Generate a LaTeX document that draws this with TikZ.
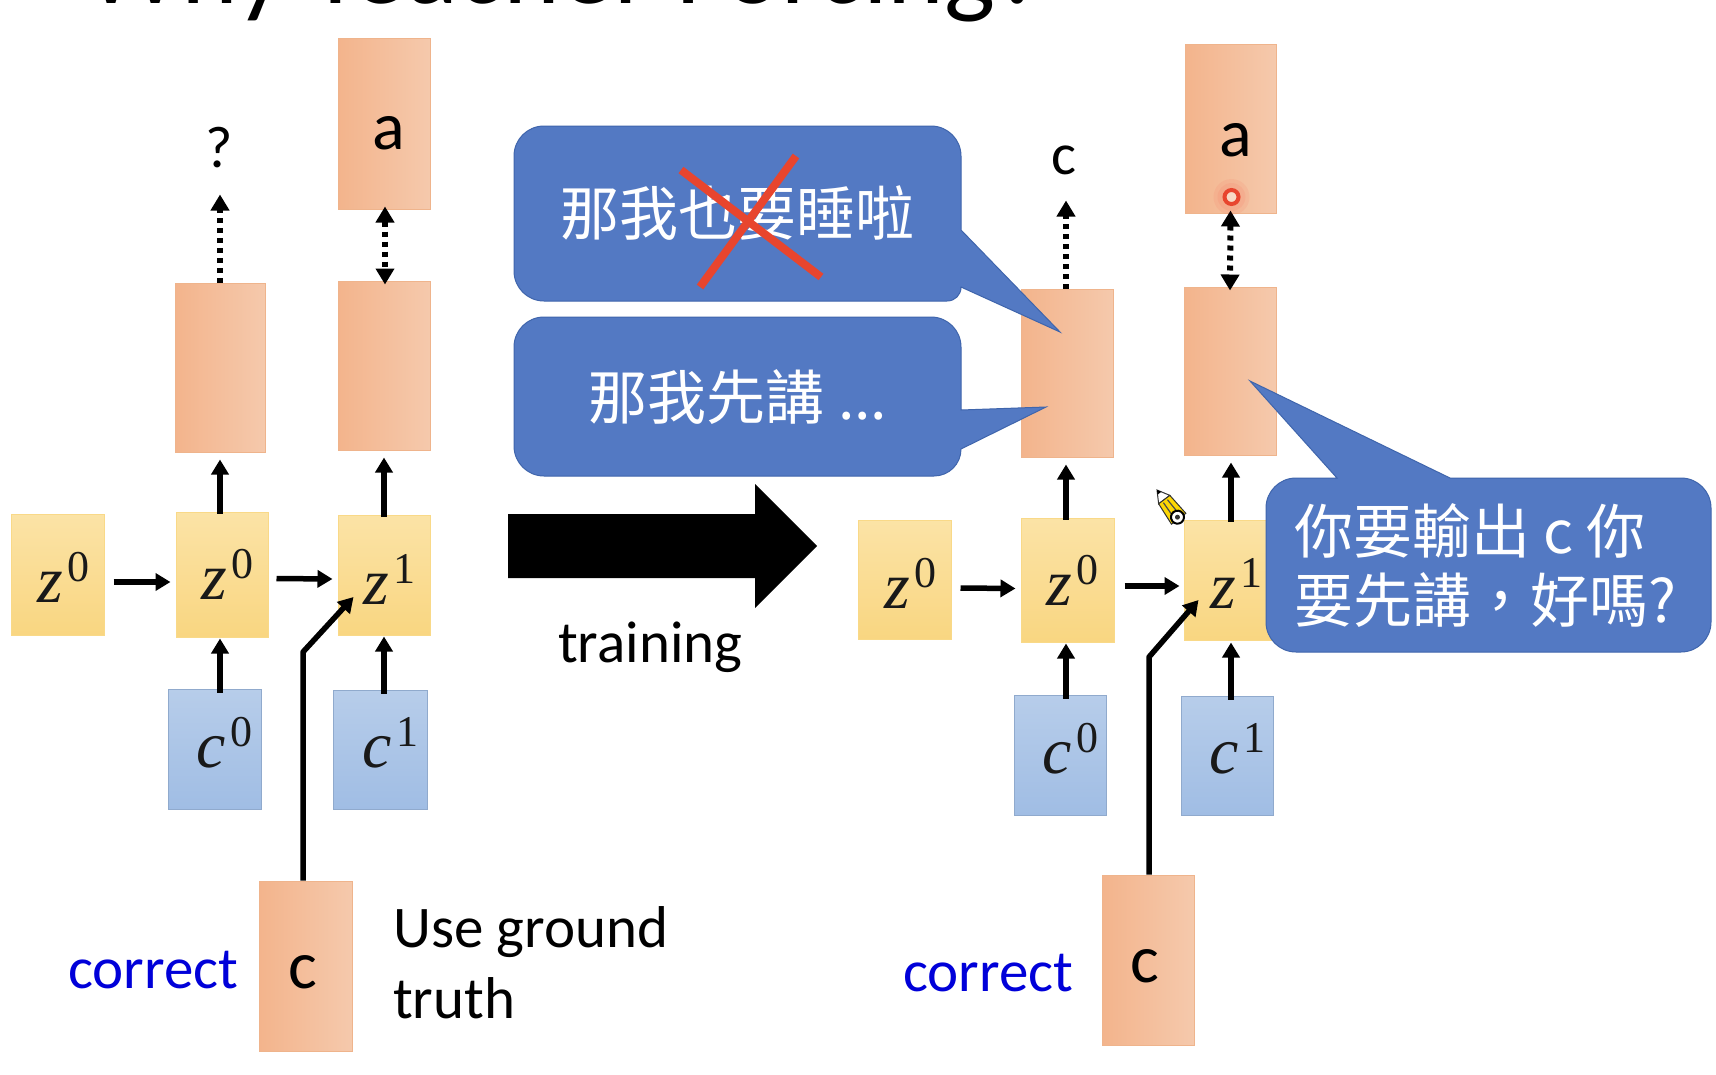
\documentclass[tikz,border=0pt]{standalone}
\usepackage{fontspec}
\setmainfont{Carlito}
\newfontfamily\cjk{Noto Sans CJK TC}
\newfontfamily\mfont{Liberation Serif}
\usetikzlibrary{arrows.meta}
\definecolor{orL}{HTML}{F3B48C}
\definecolor{orR}{HTML}{F5C9AC}
\definecolor{orB}{HTML}{EFB48C}
\definecolor{yeT}{HTML}{FBE3A6}
\definecolor{yeB}{HTML}{F9D681}
\definecolor{blT}{HTML}{B7CDEA}
\definecolor{blB}{HTML}{A0BDE4}
\definecolor{bub}{HTML}{5379C3}
\definecolor{bubE}{HTML}{3F65AC}
\definecolor{crossc}{HTML}{E8452E}
\newcommand{\fs}[1]{\fontsize{#1}{#1}\selectfont}
\newcommand{\vv}[2]{{\mfont\fs{66}\itshape #1\upshape\kern5pt\raisebox{21pt}{\fs{44}#2}}}
\tikzset{
  obox/.style={rectangle,inner sep=0pt,left color=orL,right color=orR,draw=orB,line width=1pt},
  ybox/.style={rectangle,inner sep=0pt,top color=yeT,bottom color=yeB,draw=yeB!80!yeT,line width=1pt},
  bbox/.style={rectangle,inner sep=0pt,top color=blT,bottom color=blB,draw=blB!90!black,line width=1pt},
  vlab/.style={inner sep=0pt,anchor=base west,text=black!90},
  txt/.style={inner sep=0pt,font=\fs{59},text=black},
  blu/.style={txt,text=blue!85!black,anchor=base west},
  arr/.style={draw=black,line width=5.5pt,-{Triangle[length=15pt,width=17pt]}},
  dotarr/.style={draw=black,line width=6pt,dash pattern=on 5pt off 5pt,-{Triangle[length=16pt,width=18pt]}},
  dotarrb/.style={draw=black,line width=6pt,dash pattern=on 5pt off 5pt,{Triangle[length=16pt,width=18pt]}-{Triangle[length=16pt,width=18pt]}},
  bubble/.style={fill=bub,draw=bubE,line width=1pt},
  bubtxt/.style={inner sep=0pt,text=white,font=\cjk\fs{59}},
  cross/.style={draw=crossc,line width=8pt}
}
\begin{document}
\begin{tikzpicture}[x=1pt,y=-1pt]
\useasboundingbox (0,0) rectangle (1716,1074);
\clip (0,0) rectangle (1716,1074);
\fill[white] (0,0) rectangle (1716,1074);
% title (cut by the top edge)
\node[inner sep=0pt,anchor=base west,font=\fs{108},text=black] (title) at (85,3) {Why Teacher Forcing?};
% ---- left group
\node[obox,minimum width=90pt,minimum height=169pt] (Lout) at (220,367.5) {};
\node[obox,minimum width=92pt,minimum height=169pt] (Lmid) at (384,365.5) {};
\node[obox,minimum width=92pt,minimum height=171pt] (Ltop) at (384,123.5) {};
\node[obox,minimum width=93pt,minimum height=170pt] (Lc) at (305.5,966) {};
\node[ybox,minimum width=93pt,minimum height=121pt] (Lza) at (57.5,574.5) {};
\node[ybox,minimum width=92pt,minimum height=125pt] (Lzb) at (222,574.5) {};
\node[ybox,minimum width=92pt,minimum height=120pt] (Lzc) at (384,575) {};
\node[bbox,minimum width=93pt,minimum height=120pt] (Lca) at (214.5,749) {};
\node[bbox,minimum width=94pt,minimum height=119pt] (Lcb) at (380,749.5) {};
\node[vlab] (Lzat) at (37,602) {\vv{z}{0}};
\node[vlab] (Lzbt) at (201,599) {\vv{z}{0}};
\node[vlab] (Lzct) at (363,604) {\vv{z}{1}};
\node[vlab] (Lcat) at (196,767) {\vv{c}{0}};
\node[vlab] (Lcbt) at (362,767) {\vv{c}{1}};
\node[txt] (Lq) at (219,148) {?};
\node[txt,font=\fs{68}] (Lat) at (389,133) {a};
\node[txt,font=\fs{68}] (Lct) at (303,972) {c};
\node[blu] (Lcor) at (68,988) {correct};
\node[txt,anchor=base west] (use1) at (393,947) {Use ground};
\node[txt,anchor=base west] (use2) at (393,1018) {truth};
\coordinate (Lb) at (303,652);
\draw[arr] ([xshift=9pt,yshift=-7.5pt]Lza.east) -- ([yshift=-7.5pt,xshift=-5pt]Lzb.west);
\draw[arr] ([xshift=8pt,yshift=-4pt]Lzb.east) -- ([xshift=-5pt,yshift=-4pt]Lzc.west);
\draw[arr] ([xshift=5.5pt,yshift=-4pt]Lca.north) -- ([xshift=-2pt,yshift=-1pt]Lzb.south);
\draw[arr] ([xshift=4pt,yshift=-4pt]Lcb.north) -- ([yshift=-1pt]Lzc.south);
\draw[arr,shorten >=7pt] ([xshift=-2pt,yshift=-2pt]Lzb.north) -- (Lout.south);
\draw[arr,shorten >=7pt] ([yshift=-2pt]Lzc.north) -- (Lmid.south);
\draw[dotarr] (Lout.north) -- ([yshift=88pt]Lout.north);
\draw[dotarrb] ([xshift=1pt,yshift=3pt]Ltop.south) -- ([xshift=1pt,yshift=-4pt]Lmid.north);
\draw[line width=5.5pt,line join=round,-{Triangle[length=15pt,width=17pt]}] ([xshift=-2.5pt]Lc.north) -- (Lb) -- ([xshift=16pt,yshift=-22pt]Lzc.west);
% ---- big arrow and label
\path[fill=black] (508,514) -- (755,514) -- (755,484) -- (817,546) -- (755,608) -- (755,578) -- (508,578) -- cycle;
\node[txt,anchor=base west] (train) at (558,662) {training};
% ---- right group
\node[obox,minimum width=92pt,minimum height=168pt] (Rout) at (1067,373) {};
\node[obox,minimum width=92pt,minimum height=168pt] (Rmid) at (1230,371) {};
\node[obox,minimum width=91pt,minimum height=169pt] (Rtop) at (1230.5,128.5) {};
\node[obox,minimum width=92pt,minimum height=170pt] (Rc) at (1148,960) {};
\node[ybox,minimum width=93pt,minimum height=119pt] (Rza) at (904.5,579.5) {};
\node[ybox,minimum width=93pt,minimum height=124pt] (Rzb) at (1067.5,580) {};
\node[ybox,minimum width=92pt,minimum height=120pt] (Rzc) at (1230,580) {};
\node[bbox,minimum width=92pt,minimum height=120pt] (Rca) at (1060,755) {};
\node[bbox,minimum width=92pt,minimum height=119pt] (Rcb) at (1227,755.5) {};
\node[vlab] (Rzat) at (884,608) {\vv{z}{0}};
\node[vlab] (Rzbt) at (1046,605) {\vv{z}{0}};
\node[vlab] (Rzct) at (1210,608) {\vv{z}{1}};
\node[vlab] (Rcat) at (1042,773) {\vv{c}{0}};
\node[vlab] (Rcbt) at (1209,773) {\vv{c}{1}};
\node[txt] (Rq) at (1064,160) {c};
\node[txt,font=\fs{68}] (Rat) at (1236,140) {a};
\node[txt,font=\fs{68}] (Rct) at (1145,966) {c};
\node[blu] (Rcor) at (903,991) {correct};
\coordinate (Rb) at (1149,657);
\draw[arr] ([xshift=9pt,yshift=-8.5pt]Rza.east) -- ([xshift=-5pt,yshift=-8.5pt]Rzb.west);
\draw[arr] ([xshift=10pt,yshift=-6pt]Rzb.east) -- ([xshift=-4pt,yshift=-6pt]Rzc.west);
\draw[arr] ([xshift=6pt,yshift=-4pt]Rca.north) -- ([xshift=-1.5pt,yshift=-1pt]Rzb.south);
\draw[arr] ([xshift=4pt,yshift=-4pt]Rcb.north) -- ([xshift=1pt,yshift=-2pt]Rzc.south);
\draw[arr,shorten >=7pt] ([xshift=-1.5pt,yshift=-2pt]Rzb.north) -- ([xshift=-1pt]Rout.south);
\draw[arr,shorten >=7pt] ([xshift=1pt,yshift=-2pt]Rzc.north) -- ([xshift=1pt]Rmid.south);
\draw[dotarr] ([xshift=-1pt]Rout.north) -- ([xshift=-1pt,yshift=88pt]Rout.north);
\draw[dotarrb] ([yshift=3pt]Rtop.south) -- ([yshift=-4pt]Rmid.north);
\draw[line width=5.5pt,line join=round,-{Triangle[length=15pt,width=17pt]}] ([xshift=1pt]Rc.north) -- (Rb) -- ([xshift=15pt,yshift=-20pt]Rzc.west);
% ---- cursor marks
\fill[red,opacity=.05] (1231.5,197) circle (18pt);
\fill[red,opacity=.05] (1231.5,197) circle (14pt);
\draw[crossc,line width=4pt,fill=orR!70!white] (1231.5,197) circle (7pt);
\begin{scope}[shift={(1157,490)},rotate=-53]
  \path[fill=white,draw=black!80,line width=1pt] (0,0) -- (12,-7) -- (12,7) -- cycle;
  \path[fill=black] (0,0) -- (4,-2.3) -- (4,2.3) -- cycle;
  \path[fill=yellow!75!orange,draw=black!80,line width=1pt] (12,-7) -- (36,-9) -- (36,9) -- (12,7) -- cycle;
  \draw[black!70,line width=1.2pt] (14,-2.5) -- (28,-3) (14,2.5) -- (28,3);
  \path[fill=white,draw=black,line width=2pt] (34,0) circle (6.5pt);
  \fill[black!80] (34,0) circle (2.5pt);
\end{scope}
% ---- speech bubbles
\path[bubble] (544,126) -- (931,126) .. controls (947.6,126) and (961,139.4) .. (961,156) -- (961,230) -- (1060,332) -- (961,287) .. controls (961,295) and (955,301) .. (947,301) -- (544,301) .. controls (527.4,301) and (514,287.6) .. (514,271) -- (514,156) .. controls (514,139.4) and (527.4,126) .. (544,126) -- cycle;
\path[bubble] (544,317) -- (931,317) .. controls (947.6,317) and (961,330.4) .. (961,347) -- (961,410) -- (1046,407) -- (961,449) .. controls (961,464) and (949,476) .. (934,476) -- (544,476) .. controls (527.4,476) and (514,462.6) .. (514,446) -- (514,347) .. controls (514,330.4) and (527.4,317) .. (544,317) -- cycle;
\path[bubble] (1296,478) -- (1337,478) -- (1250,381) -- (1450,478) -- (1681,478) .. controls (1697.6,478) and (1711,491.4) .. (1711,508) -- (1711,622) .. controls (1711,638.6) and (1697.6,652) .. (1681,652) -- (1296,652) .. controls (1279.4,652) and (1266,638.6) .. (1266,622) -- (1266,508) .. controls (1266,491.4) and (1279.4,478) .. (1296,478) -- cycle;
\node[bubtxt] (b1) at (737,213) {那我也要睡啦};
\node[bubtxt] (b2) at (738,397) {那我先講 ...};
\node[bubtxt,anchor=west] (b3a) at (1294,531) {你要輸出 c 你};
\node[bubtxt,anchor=west] (b3b) at (1294,600) {要先講，好嗎?};
\draw[cross] (681,170) -- (821,277);
\draw[cross] (796,156) -- (700,287);
\end{tikzpicture}
\end{document}
